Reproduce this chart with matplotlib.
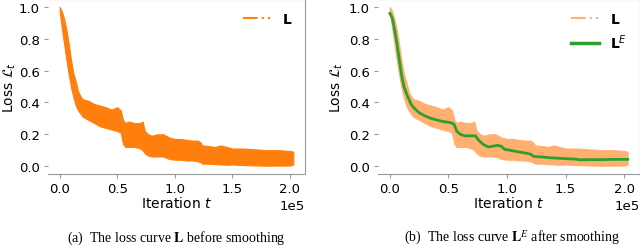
import numpy as np
import matplotlib
matplotlib.use("Agg")
import matplotlib.pyplot as plt
from matplotlib.lines import Line2D

# iteration (in units of 1e5) and envelope of the raw, noisy loss L
t_raw = [0.0, 0.02, 0.04, 0.06, 0.08, 0.10, 0.12, 0.14, 0.16, 0.18, 0.20,
         0.25, 0.30, 0.35, 0.40, 0.45, 0.50, 0.53, 0.55, 0.57, 0.60, 0.65,
         0.70, 0.72, 0.74, 0.77, 0.80, 0.85, 0.90, 0.95, 1.00, 1.05, 1.10,
         1.15, 1.20, 1.22, 1.24, 1.30, 1.35, 1.40, 1.45, 1.50, 1.60, 1.70,
         1.80, 1.90, 2.00, 2.03]
loss_upper = [1.0, 0.97, 0.92, 0.85, 0.76, 0.66, 0.58, 0.53, 0.47, 0.44, 0.42,
              0.41, 0.39, 0.38, 0.37, 0.355, 0.37, 0.35, 0.29, 0.27, 0.28, 0.27,
              0.27, 0.28, 0.22, 0.20, 0.19, 0.20, 0.20, 0.18, 0.17, 0.17, 0.165,
              0.16, 0.16, 0.15, 0.13, 0.125, 0.12, 0.13, 0.12, 0.11, 0.11, 0.105,
              0.10, 0.10, 0.095, 0.09]
loss_lower = [0.97, 0.86, 0.76, 0.66, 0.57, 0.49, 0.43, 0.38, 0.35, 0.33, 0.31,
              0.29, 0.27, 0.25, 0.24, 0.23, 0.22, 0.21, 0.14, 0.12, 0.12, 0.12,
              0.11, 0.10, 0.08, 0.065, 0.06, 0.06, 0.06, 0.045, 0.04, 0.04, 0.035,
              0.035, 0.03, 0.025, 0.015, 0.015, 0.012, 0.01, 0.008, 0.01, 0.006, 0.004,
              0.002, 0.003, 0.003, 0.01]

# smoothed loss L^E
t_smooth = [0.0, 0.02, 0.04, 0.06, 0.08, 0.10, 0.12, 0.15, 0.18, 0.20, 0.25,
            0.30, 0.35, 0.40, 0.45, 0.50, 0.53, 0.55, 0.57, 0.60, 0.64, 0.68,
            0.70, 0.73, 0.76, 0.80, 0.84, 0.88, 0.92, 0.95, 0.98, 1.02, 1.09,
            1.17, 1.20, 1.23, 1.30, 1.37, 1.45, 1.51, 1.58, 1.62, 1.70, 1.79,
            1.90, 2.03]
loss_smooth = [0.96, 0.93, 0.86, 0.77, 0.67, 0.57, 0.50, 0.44, 0.39, 0.37, 0.335,
               0.315, 0.30, 0.29, 0.28, 0.275, 0.27, 0.26, 0.22, 0.20, 0.19, 0.19,
               0.19, 0.19, 0.16, 0.135, 0.12, 0.125, 0.13, 0.125, 0.105, 0.10, 0.09,
               0.08, 0.075, 0.06, 0.057, 0.052, 0.049, 0.046, 0.044, 0.039, 0.04, 0.04,
               0.042, 0.042]

orange = "#ff7f0e"
light_orange = "#ffb070"
green = "#2ca02c"

x_raw = np.array(t_raw) * 1e5
x_smooth = np.array(t_smooth) * 1e5

fig = plt.figure(figsize=(6.4, 2.53), dpi=100)
ax1 = fig.add_axes([48 / 640, 78 / 253, 257 / 640, 175 / 253])
ax2 = fig.add_axes([378 / 640, 78 / 253, 261.5 / 640, 175 / 253])

ax1.fill_between(x_raw, loss_lower, loss_upper, color=orange, lw=0.8, edgecolor=orange)
ax2.fill_between(x_raw, loss_lower, loss_upper, color=light_orange, lw=0.8, edgecolor=light_orange)
ax2.plot(x_smooth, loss_smooth, color=green, lw=2)

dashdotdot = (0, (7, 2, 1, 2, 1, 2))
h_raw = Line2D([], [], color=orange, lw=1.5, linestyle=dashdotdot)
h_raw_light = Line2D([], [], color=light_orange, lw=1.5, linestyle=dashdotdot)
h_smooth = Line2D([], [], color=green, lw=2.5)

ax1.legend([h_raw], [r"$\mathbf{L}$"], loc="upper right", frameon=False, fontsize=10)
ax2.legend([h_raw_light, h_smooth], [r"$\mathbf{L}$", r"$\mathbf{L}^{E}$"],
           loc="upper right", frameon=False, fontsize=10)

for ax in (ax1, ax2):
    ax.set_ylim(-0.05, 1.05)
    ax.set_yticks([0.0, 0.2, 0.4, 0.6, 0.8, 1.0])
    ax.ticklabel_format(style="sci", axis="x", scilimits=(0, 0))
    ax.set_xlabel("Iteration $t$", fontsize=10, labelpad=0)
    ax.set_ylabel(r"Loss $\mathcal{L}_t$", fontsize=10)
    ax.tick_params(labelsize=9.5, color="0.6", length=3, pad=3)
    for s in ax.spines.values():
        s.set_color("0.6")
    ax.spines["left"].set_visible(False)
    ax.xaxis.get_offset_text().set_fontsize(9.5)

ax1.yaxis.set_label_coords(-0.115, 0.5)
ax2.yaxis.set_label_coords(-0.128, 0.5)

fig.text(176 / 640, 1 - 238 / 253,
         r"(a)  The loss curve $\mathbf{L}$ before smoothing",
         ha="center", va="center", fontsize=10, family="Liberation Serif",
         math_fontfamily="stix")
fig.text(512 / 640, 1 - 238 / 253,
         r"(b)  The loss curve $\mathbf{L}^{E}$ after smoothing",
         ha="center", va="center", fontsize=10, family="Liberation Serif",
         math_fontfamily="stix")

fig.savefig("out.png", dpi=100)
